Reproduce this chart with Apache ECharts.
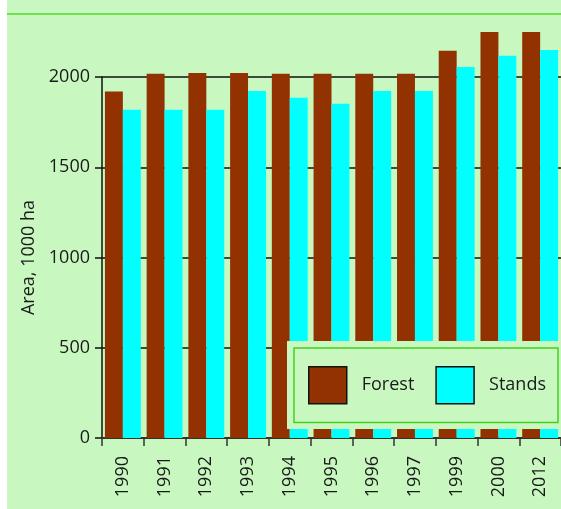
<!DOCTYPE html>
<html>
<head>
<meta charset="utf-8">
<script src="https://cdn.jsdelivr.net/npm/echarts@6/dist/echarts.min.js"></script>
<style>
html,body{margin:0;padding:0;background:#fff;}
#chart{width:561px;height:509px;}
</style>
</head>
<body>
<div id="chart"></div>
<script>
const categories = ['1990','1991','1992','1993','1994','1995','1996','1997','1999','2000','2012'];
const forest = [1920, 2018, 2022, 2022, 2018, 2018, 2018, 2018, 2145, 2250, 2250];
const stands = [1818, 1818, 1818, 1922, 1885, 1852, 1922, 1922, 2056, 2118, 2150];
const yTicks = [0, 500, 1000, 1500, 2000];

const FONT = '"Open Sans", "Noto Sans", sans-serif';
const chart = echarts.init(document.getElementById('chart'), null, {renderer: 'canvas'});
chart.setOption({
  backgroundColor: '#c8f8c0',
  animation: false,
  textStyle: {fontFamily: FONT},
  grid: {left: 102, right: 0, top: 77, bottom: 71, containLabel: false},
  graphic: [
    {type: 'rect', z: 0, shape: {x: 0, y: 0, width: 7, height: 509}, style: {fill: '#ffffff'}},
    {type: 'line', z: 0, shape: {x1: 7, y1: 14, x2: 561, y2: 14}, style: {stroke: '#70e050', lineWidth: 2}},
    {type: 'rect', z: 50, shape: {x: 287, y: 341, width: 274, height: 88}, style: {fill: '#c8f8c0'}}
  ],
  legend: {
    z: 60,
    left: 294, top: 348,
    orient: 'horizontal',
    padding: [18, 12, 18, 14],
    itemGap: 21,
    itemWidth: 38, itemHeight: 37,
    icon: 'rect',
    borderColor: '#44d022', borderWidth: 1.5,
    backgroundColor: '#c8f8c0',
    itemStyle: {borderColor: '#111', borderWidth: 1.5},
    textStyle: {fontFamily: FONT, fontSize: 18, color: '#1a1a1a', padding: [0, 0, 0, 10]},
    data: ['Forest', 'Stands']
  },
  xAxis: {
    type: 'category',
    data: categories,
    axisLine: {lineStyle: {color: '#333', width: 2}},
    axisTick: {show: true, length: 8, alignWithLabel: false, lineStyle: {color: '#333', width: 1.5}},
    axisLabel: {rotate: 90, fontSize: 18, color: '#1a1a1a', margin: 18, fontFamily: FONT}
  },
  yAxis: {
    type: 'value',
    min: yTicks[0], max: yTicks[yTicks.length - 1], interval: 500,
    name: 'Area, 1000 ha',
    nameLocation: 'middle',
    nameRotate: 90,
    nameGap: 62,
    nameTextStyle: {fontSize: 18, color: '#1a1a1a', fontFamily: FONT},
    axisLine: {show: true, lineStyle: {color: '#111', width: 1.5}},
    axisTick: {show: true, length: 7, lineStyle: {color: '#111', width: 1.5}},
    axisLabel: {fontSize: 18, color: '#1a1a1a', margin: 12, fontFamily: FONT, formatter: v => String(v)},
    splitLine: {show: true, lineStyle: {color: '#111', width: 1.5}}
  },
  series: [
    {name: 'Forest', type: 'bar', data: forest, clip: false, barGap: '0%', barCategoryGap: '14%',
     itemStyle: {color: '#923200'}},
    {name: 'Stands', type: 'bar', data: stands, clip: false, barGap: '0%', barCategoryGap: '14%',
     itemStyle: {color: '#00ffff'}}
  ]
});
</script>
</body>
</html>
